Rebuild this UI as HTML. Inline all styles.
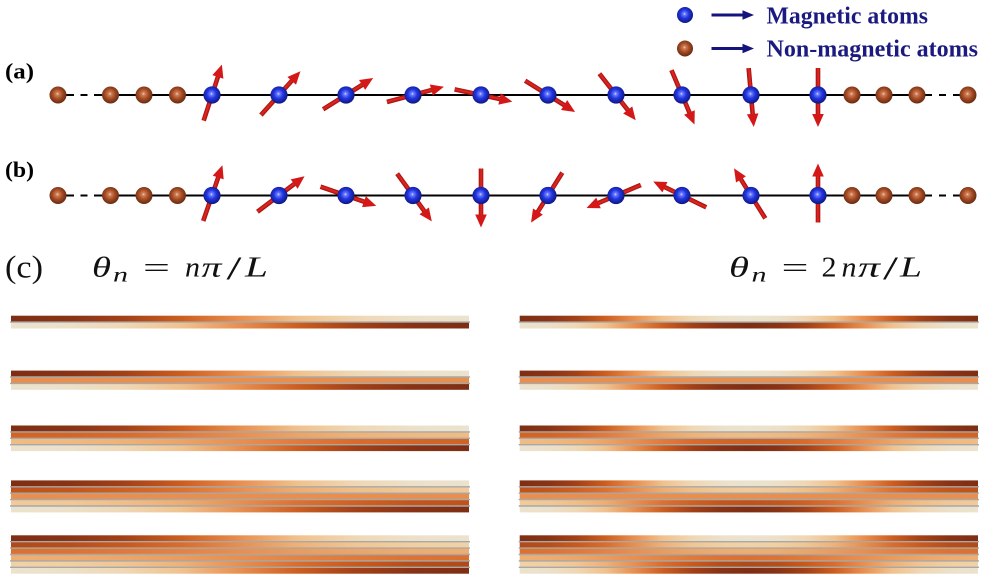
<!DOCTYPE html>
<html>
<head>
<meta charset="utf-8">
<style>
html,body{margin:0;padding:0;background:#fff;}
body{width:984px;height:578px;overflow:hidden;}
svg{display:block;}
text{font-family:"Liberation Serif","DejaVu Serif",serif;}
</style>
</head>
<body>
<svg width="984" height="578" viewBox="0 0 984 578" xmlns="http://www.w3.org/2000/svg">
<defs>
  <linearGradient id="A" x1="0" x2="1" y1="0" y2="0">
    <stop offset="0" stop-color="#7e2e14"/><stop offset="0.125" stop-color="#883315"/>
    <stop offset="0.25" stop-color="#a34117"/><stop offset="0.375" stop-color="#cd5e20"/>
    <stop offset="0.5" stop-color="#e88f50"/><stop offset="0.625" stop-color="#f0c18d"/>
    <stop offset="0.75" stop-color="#efd7b4"/><stop offset="0.875" stop-color="#ece0c9"/>
    <stop offset="1" stop-color="#ebe3cf"/>
  </linearGradient>
  <linearGradient id="B" x1="0" x2="1" y1="0" y2="0">
    <stop offset="0" stop-color="#d16324"/><stop offset="0.125" stop-color="#d36526"/>
    <stop offset="0.25" stop-color="#d96c2d"/><stop offset="0.375" stop-color="#e07b3c"/>
    <stop offset="0.5" stop-color="#e88f50"/><stop offset="0.625" stop-color="#eca366"/>
    <stop offset="0.75" stop-color="#eeb277"/><stop offset="0.875" stop-color="#efb982"/>
    <stop offset="1" stop-color="#efbc86"/>
  </linearGradient>
  <linearGradient id="C" x1="0" x2="1" y1="0" y2="0">
    <stop offset="0" stop-color="#be531b"/><stop offset="0.125" stop-color="#c3561c"/>
    <stop offset="0.25" stop-color="#d06122"/><stop offset="0.375" stop-color="#dc7131"/>
    <stop offset="0.5" stop-color="#e88f50"/><stop offset="0.625" stop-color="#eead71"/>
    <stop offset="0.75" stop-color="#f0be89"/><stop offset="0.875" stop-color="#f0c897"/>
    <stop offset="1" stop-color="#f1cb9b"/>
  </linearGradient>
  <linearGradient id="D" x1="0" x2="1" y1="0" y2="0">
    <stop offset="0" stop-color="#b04a18"/><stop offset="0.125" stop-color="#b64e19"/>
    <stop offset="0.25" stop-color="#c95a1d"/><stop offset="0.375" stop-color="#da6d2d"/>
    <stop offset="0.5" stop-color="#e88f50"/><stop offset="0.625" stop-color="#eeb177"/>
    <stop offset="0.75" stop-color="#f0c593"/><stop offset="0.875" stop-color="#f1cfa1"/>
    <stop offset="1" stop-color="#f1d2a6"/>
  </linearGradient>
  <linearGradient id="E" x1="0" x2="1" y1="0" y2="0">
    <stop offset="0" stop-color="#dc7030"/><stop offset="0.125" stop-color="#dd7333"/>
    <stop offset="0.25" stop-color="#e07939"/><stop offset="0.375" stop-color="#e38344"/>
    <stop offset="0.5" stop-color="#e88f50"/><stop offset="0.625" stop-color="#ea9b5d"/>
    <stop offset="0.75" stop-color="#eca568"/><stop offset="0.875" stop-color="#eeac6f"/>
    <stop offset="1" stop-color="#eeae72"/>
  </linearGradient>
  <linearGradient id="Ar" href="#A" x1="1" x2="0" y1="0" y2="0"/>
  <linearGradient id="Br" href="#B" x1="1" x2="0" y1="0" y2="0"/>
  <linearGradient id="Cr" href="#C" x1="1" x2="0" y1="0" y2="0"/>
  <linearGradient id="Dr" href="#D" x1="1" x2="0" y1="0" y2="0"/>
  <linearGradient id="Er" href="#E" x1="1" x2="0" y1="0" y2="0"/>
  <linearGradient id="A2" href="#A" x1="0" x2="0.5" y1="0" y2="0" spreadMethod="reflect"/>
  <linearGradient id="B2" href="#B" x1="0" x2="0.5" y1="0" y2="0" spreadMethod="reflect"/>
  <linearGradient id="C2" href="#C" x1="0" x2="0.5" y1="0" y2="0" spreadMethod="reflect"/>
  <linearGradient id="D2" href="#D" x1="0" x2="0.5" y1="0" y2="0" spreadMethod="reflect"/>
  <linearGradient id="E2" href="#E" x1="0" x2="0.5" y1="0" y2="0" spreadMethod="reflect"/>
  <linearGradient id="Ar2" href="#A" x1="0.5" x2="0" y1="0" y2="0" spreadMethod="reflect"/>
  <linearGradient id="Br2" href="#B" x1="0.5" x2="0" y1="0" y2="0" spreadMethod="reflect"/>
  <linearGradient id="Cr2" href="#C" x1="0.5" x2="0" y1="0" y2="0" spreadMethod="reflect"/>
  <linearGradient id="Dr2" href="#D" x1="0.5" x2="0" y1="0" y2="0" spreadMethod="reflect"/>
  <linearGradient id="Er2" href="#E" x1="0.5" x2="0" y1="0" y2="0" spreadMethod="reflect"/>

  <radialGradient id="bl" cx="0.47" cy="0.45" r="0.6" fx="0.47" fy="0.43">
    <stop offset="0" stop-color="#e6ecff"/>
    <stop offset="0.12" stop-color="#6f80ff"/>
    <stop offset="0.45" stop-color="#2236e0"/>
    <stop offset="1" stop-color="#0a1070"/>
  </radialGradient>
  <radialGradient id="br" cx="0.47" cy="0.45" r="0.6" fx="0.47" fy="0.43">
    <stop offset="0" stop-color="#f8d8bc"/>
    <stop offset="0.14" stop-color="#d0805a"/>
    <stop offset="0.5" stop-color="#a44a22"/>
    <stop offset="1" stop-color="#5a2410"/>
  </radialGradient>
  <linearGradient id="rs" x1="0" x2="1" y1="0" y2="0">
    <stop offset="0" stop-color="#a00c0c"/>
    <stop offset="0.45" stop-color="#e42a22"/>
    <stop offset="1" stop-color="#a00c0c"/>
  </linearGradient>
  <g id="arr">
    <rect x="-2.3" y="-21" width="4.6" height="48" fill="url(#rs)"/>
    <polygon points="0,-32 -5.8,-19 5.8,-19" fill="#d41818"/>
  </g>
</defs>

<!-- Legend -->
<circle cx="685" cy="15" r="8" fill="url(#bl)"/>
<line x1="711.5" y1="15" x2="745" y2="15" stroke="#14147c" stroke-width="3"/>
<polygon points="754,15 742.5,10.3 742.5,19.7" fill="#14147c"/>
<text x="766.5" y="23.3" font-size="24" font-weight="bold" fill="#1a1a80" textLength="161.5" lengthAdjust="spacingAndGlyphs">Magnetic atoms</text>

<circle cx="685" cy="48.5" r="8" fill="url(#br)"/>
<line x1="711.5" y1="48.5" x2="745" y2="48.5" stroke="#14147c" stroke-width="3"/>
<polygon points="754,48.5 742.5,43.8 742.5,53.2" fill="#14147c"/>
<text x="766.5" y="56.3" font-size="24" font-weight="bold" fill="#1a1a80" textLength="211.5" lengthAdjust="spacingAndGlyphs">Non-magnetic atoms</text>

<!-- Labels -->
<text x="5" y="78.5" font-size="22" font-weight="bold" fill="#000" textLength="29" lengthAdjust="spacingAndGlyphs">(a)</text>
<text x="5" y="177" font-size="22" font-weight="bold" fill="#000" textLength="29" lengthAdjust="spacingAndGlyphs">(b)</text>

<!-- Chain (a) -->
<g stroke="#000" stroke-width="2">
  <line x1="110" y1="95" x2="917" y2="95"/>
  <line x1="58" y1="95" x2="74" y2="95"/>
  <line x1="80.5" y1="95" x2="87.5" y2="95"/>
  <line x1="94" y1="95" x2="110" y2="95"/>
  <line x1="917" y1="95" x2="932" y2="95"/>
  <line x1="939" y1="95" x2="946" y2="95"/>
  <line x1="953" y1="95" x2="968" y2="95"/>
</g>

<use href="#arr" transform="translate(212,95) rotate(18)"/>
<use href="#arr" transform="translate(279,95) rotate(42)"/>
<use href="#arr" transform="translate(346,95) rotate(58)"/>
<use href="#arr" transform="translate(413,95) rotate(75)"/>
<use href="#arr" transform="translate(481,95) rotate(102)"/>
<use href="#arr" transform="translate(548,95) rotate(122)"/>
<use href="#arr" transform="translate(616,95) rotate(142)"/>
<use href="#arr" transform="translate(682,95) rotate(157)"/>
<use href="#arr" transform="translate(751,95) rotate(175)"/>
<use href="#arr" transform="translate(818,95) rotate(180)"/>

<g fill="url(#br)">
  <circle cx="58" cy="95" r="8.5"/><circle cx="110.5" cy="95" r="8.5"/>
  <circle cx="144" cy="95" r="8.5"/><circle cx="177.5" cy="95" r="8.5"/>
  <circle cx="852" cy="95" r="8.5"/><circle cx="884" cy="95" r="8.5"/>
  <circle cx="917" cy="95" r="8.5"/><circle cx="968" cy="95" r="8.5"/>
</g>
<g fill="url(#bl)">
  <circle cx="212" cy="95" r="8.6"/><circle cx="279" cy="95" r="8.6"/>
  <circle cx="346" cy="95" r="8.6"/><circle cx="413" cy="95" r="8.6"/>
  <circle cx="481" cy="95" r="8.6"/><circle cx="548" cy="95" r="8.6"/>
  <circle cx="616" cy="95" r="8.6"/><circle cx="682" cy="95" r="8.6"/>
  <circle cx="751" cy="95" r="8.6"/><circle cx="818" cy="95" r="8.6"/>
</g>

<!-- Chain (b) -->
<g stroke="#000" stroke-width="2">
  <line x1="110" y1="195.5" x2="917" y2="195.5"/>
  <line x1="58" y1="195.5" x2="74" y2="195.5"/>
  <line x1="80.5" y1="195.5" x2="87.5" y2="195.5"/>
  <line x1="94" y1="195.5" x2="110" y2="195.5"/>
  <line x1="917" y1="195.5" x2="932" y2="195.5"/>
  <line x1="939" y1="195.5" x2="946" y2="195.5"/>
  <line x1="953" y1="195.5" x2="968" y2="195.5"/>
</g>

<use href="#arr" transform="translate(212,195.5) rotate(19)"/>
<use href="#arr" transform="translate(279,195.5) rotate(53)"/>
<use href="#arr" transform="translate(346,195.5) rotate(109)"/>
<use href="#arr" transform="translate(413,195.5) rotate(144)"/>
<use href="#arr" transform="translate(481,195.5) rotate(180)"/>
<use href="#arr" transform="translate(548,195.5) rotate(212)"/>
<use href="#arr" transform="translate(616,195.5) rotate(247)"/>
<use href="#arr" transform="translate(682,195.5) rotate(296)"/>
<use href="#arr" transform="translate(751,195.5) rotate(328)"/>
<use href="#arr" transform="translate(818,195.5) rotate(0)"/>

<g fill="url(#br)">
  <circle cx="58" cy="195.5" r="8.5"/><circle cx="110.5" cy="195.5" r="8.5"/>
  <circle cx="144" cy="195.5" r="8.5"/><circle cx="177.5" cy="195.5" r="8.5"/>
  <circle cx="852" cy="195.5" r="8.5"/><circle cx="884" cy="195.5" r="8.5"/>
  <circle cx="917" cy="195.5" r="8.5"/><circle cx="968" cy="195.5" r="8.5"/>
</g>
<g fill="url(#bl)">
  <circle cx="212" cy="195.5" r="8.6"/><circle cx="279" cy="195.5" r="8.6"/>
  <circle cx="346" cy="195.5" r="8.6"/><circle cx="413" cy="195.5" r="8.6"/>
  <circle cx="481" cy="195.5" r="8.6"/><circle cx="548" cy="195.5" r="8.6"/>
  <circle cx="616" cy="195.5" r="8.6"/><circle cx="682" cy="195.5" r="8.6"/>
  <circle cx="751" cy="195.5" r="8.6"/><circle cx="818" cy="195.5" r="8.6"/>
</g>

<!-- (c) formulas -->
<text x="5" y="277.5" font-size="32" fill="#111" textLength="38" lengthAdjust="spacingAndGlyphs">(c)</text>
<g fill="#111" font-size="29">
  <text x="92" y="276.5" font-style="italic" textLength="19" lengthAdjust="spacingAndGlyphs">θ</text>
  <text x="113" y="281.7" font-style="italic" font-size="20" textLength="15" lengthAdjust="spacingAndGlyphs">n</text>
  <text x="143" y="277" textLength="27" lengthAdjust="spacingAndGlyphs">=</text>
  <text x="185" y="276.5" font-style="italic" textLength="15" lengthAdjust="spacingAndGlyphs">n</text>
  <text x="201.5" y="276.5" font-style="italic" textLength="20" lengthAdjust="spacingAndGlyphs">π</text>
  <text x="226.5" y="279" font-size="33" textLength="15" lengthAdjust="spacingAndGlyphs">/</text>
  <text x="245" y="276.5" font-style="italic" textLength="23" lengthAdjust="spacingAndGlyphs">L</text>

  <text x="729" y="276.5" font-style="italic" textLength="20" lengthAdjust="spacingAndGlyphs">θ</text>
  <text x="751.5" y="281.7" font-style="italic" font-size="20" textLength="15" lengthAdjust="spacingAndGlyphs">n</text>
  <text x="781.5" y="277" textLength="27" lengthAdjust="spacingAndGlyphs">=</text>
  <text x="821.5" y="276.5" textLength="15" lengthAdjust="spacingAndGlyphs">2</text>
  <text x="841.5" y="276.5" font-style="italic" textLength="15" lengthAdjust="spacingAndGlyphs">n</text>
  <text x="858" y="276.5" font-style="italic" textLength="22" lengthAdjust="spacingAndGlyphs">π</text>
  <text x="883" y="279" font-size="33" textLength="15" lengthAdjust="spacingAndGlyphs">/</text>
  <text x="900" y="276.5" font-style="italic" textLength="22" lengthAdjust="spacingAndGlyphs">L</text>
</g>

<!-- Heatmaps: left -->
<g>
  <rect x="11" y="315.7" width="458" height="6.4" fill="url(#A)"/>
  <rect x="11" y="322.1" width="458" height="6.4" fill="url(#Ar)"/>

  <rect x="11" y="370.6" width="458" height="6.4" fill="url(#A)"/>
  <rect x="11" y="377" width="458" height="6.4" fill="#e88f50"/>
  <rect x="11" y="383.4" width="458" height="6.4" fill="url(#Ar)"/>

  <rect x="11" y="425.5" width="458" height="6.4" fill="url(#A)"/>
  <rect x="11" y="431.9" width="458" height="6.4" fill="url(#B)"/>
  <rect x="11" y="438.3" width="458" height="6.4" fill="url(#Br)"/>
  <rect x="11" y="444.7" width="458" height="6.4" fill="url(#Ar)"/>

  <rect x="11" y="480.4" width="458" height="6.4" fill="url(#A)"/>
  <rect x="11" y="486.8" width="458" height="6.4" fill="url(#C)"/>
  <rect x="11" y="493.2" width="458" height="6.4" fill="#e88f50"/>
  <rect x="11" y="499.6" width="458" height="6.4" fill="url(#Cr)"/>
  <rect x="11" y="506" width="458" height="6.4" fill="url(#Ar)"/>

  <rect x="11" y="535.3" width="458" height="6.4" fill="url(#A)"/>
  <rect x="11" y="541.7" width="458" height="6.4" fill="url(#D)"/>
  <rect x="11" y="548.1" width="458" height="6.4" fill="url(#E)"/>
  <rect x="11" y="554.5" width="458" height="6.4" fill="url(#Er)"/>
  <rect x="11" y="560.9" width="458" height="6.4" fill="url(#Dr)"/>
  <rect x="11" y="567.3" width="458" height="6.4" fill="url(#Ar)"/>
</g>

<!-- Heatmaps: right -->
<g>
  <rect x="519.7" y="315.7" width="458.3" height="6.4" fill="url(#A2)"/>
  <rect x="519.7" y="322.1" width="458.3" height="6.4" fill="url(#Ar2)"/>

  <rect x="519.7" y="370.6" width="458.3" height="6.4" fill="url(#A2)"/>
  <rect x="519.7" y="377" width="458.3" height="6.4" fill="#e88f50"/>
  <rect x="519.7" y="383.4" width="458.3" height="6.4" fill="url(#Ar2)"/>

  <rect x="519.7" y="425.5" width="458.3" height="6.4" fill="url(#A2)"/>
  <rect x="519.7" y="431.9" width="458.3" height="6.4" fill="url(#B2)"/>
  <rect x="519.7" y="438.3" width="458.3" height="6.4" fill="url(#Br2)"/>
  <rect x="519.7" y="444.7" width="458.3" height="6.4" fill="url(#Ar2)"/>

  <rect x="519.7" y="480.4" width="458.3" height="6.4" fill="url(#A2)"/>
  <rect x="519.7" y="486.8" width="458.3" height="6.4" fill="url(#C2)"/>
  <rect x="519.7" y="493.2" width="458.3" height="6.4" fill="#e88f50"/>
  <rect x="519.7" y="499.6" width="458.3" height="6.4" fill="url(#Cr2)"/>
  <rect x="519.7" y="506" width="458.3" height="6.4" fill="url(#Ar2)"/>

  <rect x="519.7" y="535.3" width="458.3" height="6.4" fill="url(#A2)"/>
  <rect x="519.7" y="541.7" width="458.3" height="6.4" fill="url(#D2)"/>
  <rect x="519.7" y="548.1" width="458.3" height="6.4" fill="url(#E2)"/>
  <rect x="519.7" y="554.5" width="458.3" height="6.4" fill="url(#Er2)"/>
  <rect x="519.7" y="560.9" width="458.3" height="6.4" fill="url(#Dr2)"/>
  <rect x="519.7" y="567.3" width="458.3" height="6.4" fill="url(#Ar2)"/>
</g>

<!-- separator lines -->
<g stroke="#a8a8a8" stroke-width="1.4">
  <line x1="10" x2="470" y1="322.1" y2="322.1"/>
  <line x1="10" x2="470" y1="377" y2="377"/>
  <line x1="10" x2="470" y1="383.4" y2="383.4"/>
  <line x1="10" x2="470" y1="431.9" y2="431.9"/>
  <line x1="10" x2="470" y1="438.3" y2="438.3"/>
  <line x1="10" x2="470" y1="444.7" y2="444.7"/>
  <line x1="10" x2="470" y1="486.8" y2="486.8"/>
  <line x1="10" x2="470" y1="493.2" y2="493.2"/>
  <line x1="10" x2="470" y1="499.6" y2="499.6"/>
  <line x1="10" x2="470" y1="506" y2="506"/>
  <line x1="10" x2="470" y1="541.7" y2="541.7"/>
  <line x1="10" x2="470" y1="548.1" y2="548.1"/>
  <line x1="10" x2="470" y1="554.5" y2="554.5"/>
  <line x1="10" x2="470" y1="560.9" y2="560.9"/>
  <line x1="10" x2="470" y1="567.3" y2="567.3"/>

  <line x1="518.7" x2="979" y1="322.1" y2="322.1"/>
  <line x1="518.7" x2="979" y1="377" y2="377"/>
  <line x1="518.7" x2="979" y1="383.4" y2="383.4"/>
  <line x1="518.7" x2="979" y1="431.9" y2="431.9"/>
  <line x1="518.7" x2="979" y1="438.3" y2="438.3"/>
  <line x1="518.7" x2="979" y1="444.7" y2="444.7"/>
  <line x1="518.7" x2="979" y1="486.8" y2="486.8"/>
  <line x1="518.7" x2="979" y1="493.2" y2="493.2"/>
  <line x1="518.7" x2="979" y1="499.6" y2="499.6"/>
  <line x1="518.7" x2="979" y1="506" y2="506"/>
  <line x1="518.7" x2="979" y1="541.7" y2="541.7"/>
  <line x1="518.7" x2="979" y1="548.1" y2="548.1"/>
  <line x1="518.7" x2="979" y1="554.5" y2="554.5"/>
  <line x1="518.7" x2="979" y1="560.9" y2="560.9"/>
  <line x1="518.7" x2="979" y1="567.3" y2="567.3"/>
</g>
</svg>
</body>
</html>
